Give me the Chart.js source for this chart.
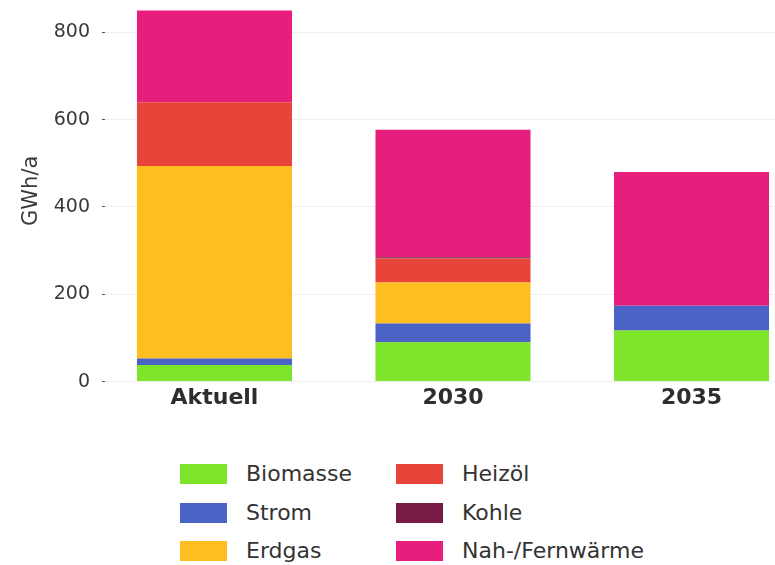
<!DOCTYPE html>
<html lang="de">
<head>
<meta charset="UTF-8" />
<title>Wärmebedarf nach Energieträger</title>
<script src="https://cdn.jsdelivr.net/npm/chart.js"></script>
<style>
  html, body { margin: 0; padding: 0; background: #fff; overflow: hidden; }
  body { width: 775px; height: 565px; position: relative; font-family: "DejaVu Sans", sans-serif; color: #333; }
  #wrap { position: absolute; left: 0; top: 0; width: 775px; height: 414px; }
  .item { position: absolute; display: flex; align-items: center; height: 20px; font-size: 22px; line-height: 20px; white-space: nowrap; }
  .box { width: 47px; height: 20px; margin-right: 19px; flex: none; }
</style>
</head>
<body>
<div id="wrap"><canvas id="chart" width="775" height="414"></canvas></div>
<div id="legend"></div>

<script>
// Szenarien und Energieträger (GWh/a)
const categories = ['Aktuell', '2030', '2035'];
const biomasse   = [38, 90, 117];
const strom      = [15, 43, 57];
const erdgas     = [441, 94, 0];
const heizoel    = [146, 55, 0];
const kohle      = [0, 3, 0];
const fernwaerme = [210, 292, 306];

const labels = ['Biomasse', 'Strom', 'Erdgas', 'Heizöl', 'Kohle', 'Nah-/Fernwärme'];
const values = [biomasse, strom, erdgas, heizoel, kohle, fernwaerme];
const colors = ['#7fe52a', '#4b63c4', '#febe1f', '#e9443a', '#771b45', '#e71e7c'];

const font = '"DejaVu Sans", sans-serif';

const datasets = labels.map((label, k) => ({
  label,
  data: values[k].map((v, i) => ({ x: i, y: v })),
  backgroundColor: colors[k],
  borderWidth: 0,
  categoryPercentage: 1,
  barPercentage: 0.65
}));

new Chart(document.getElementById('chart'), {
  type: 'bar',
  data: { datasets },
  options: {
    responsive: false,
    animation: false,
    layout: { padding: 0 },
    plugins: { legend: { display: false }, tooltip: { enabled: false } },
    scales: {
      // numerische x-Achse, damit die Balken frei positioniert werden können
      x: {
        type: 'linear',
        stacked: true,
        offset: false,
        min: -0.459,
        max: 2.35,
        bounds: 'data',
        grid: { display: false, drawTicks: false },
        border: { display: false },
        afterBuildTicks: s => { s.ticks = categories.map((_, i) => ({ value: i })); },
        ticks: {
          autoSkip: false,
          maxRotation: 0,
          padding: 3,
          color: '#2e2e2e',
          font: { family: font, size: 22, weight: 'bold' },
          callback: v => categories[v]
        }
      },
      y: {
        stacked: true,
        min: 0,
        max: 874,
        border: { display: false },
        grid: {
          color: '#efefef',
          tickColor: '#555',
          tickLength: 8,
          tickBorderDash: [3, 5],
          tickBorderDashOffset: 3
        },
        ticks: {
          stepSize: 200,
          includeBounds: false,
          padding: 7,
          color: '#3a3a3a',
          font: { family: font, size: 19 }
        },
        title: {
          display: true,
          text: 'GWh/a',
          color: '#3a3a3a',
          font: { family: font, size: 21 },
          padding: { top: 19, bottom: 0 }
        },
        afterFit: s => {
          s.width = 105;
          s.paddingTop = 0;
          s.paddingBottom = 0;
        }
      }
    }
  }
});

// Legende: zwei Spalten à drei Einträge
const legend = document.getElementById('legend');
const colLeft = [180, 396];
const rowTop = [464, 503, 541];
labels.forEach((label, k) => {
  const item = document.createElement('div');
  item.className = 'item';
  item.style.left = colLeft[Math.floor(k / 3)] + 'px';
  item.style.top = rowTop[k % 3] + 'px';
  const box = document.createElement('span');
  box.className = 'box';
  box.style.background = colors[k];
  const text = document.createElement('span');
  text.textContent = label;
  item.appendChild(box);
  item.appendChild(text);
  legend.appendChild(item);
});
</script>
</body>
</html>
